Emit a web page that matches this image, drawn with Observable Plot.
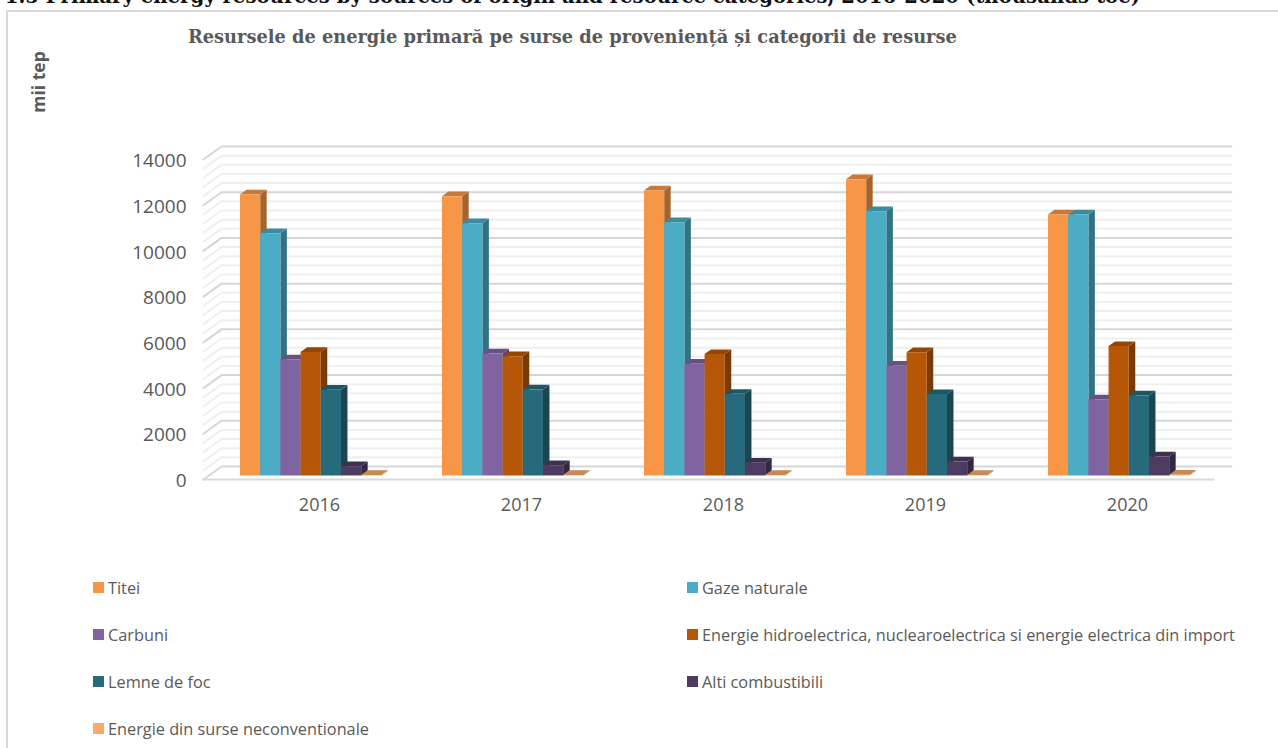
<!DOCTYPE html>
<html lang="ro">
<head>
<meta charset="utf-8">
<title>Resursele de energie primară</title>
<script src="https://cdn.jsdelivr.net/npm/d3@7"></script>
<script src="https://cdn.jsdelivr.net/npm/@observablehq/plot@0.6"></script>
<style>
  html, body { margin: 0; padding: 0; background: #fff; }
  #page { position: relative; width: 1278px; height: 748px; overflow: hidden; font-family: "Open Sans", sans-serif; color: #595959; }
  #plot { position: absolute; left: 0; top: 0; width: 1278px; height: 748px; }
  #frame { position: absolute; left: 6px; top: 10px; width: 1290px; height: 800px; border: 2px solid #d9d9d9; box-sizing: border-box; }
  #heading { position: absolute; right: 138px; top: -15px; white-space: nowrap; font: bold 19.7px "DejaVu Serif", serif; color: #111; }
  #title { position: absolute; left: 188px; top: 26px; white-space: nowrap; font: bold 17.8px "DejaVu Serif", serif; color: #595959; }
  #unit { position: absolute; left: 38px; top: 82px; transform: translate(-50%, -50%) rotate(-90deg); white-space: nowrap; font-weight: 700; font-size: 17.5px; }
  .key { position: absolute; white-space: nowrap; font-size: 16.3px; line-height: 20px; }
  .key i { position: absolute; left: -15px; top: 4px; width: 11px; height: 11px; }
</style>
</head>
<body>
<div id="page">
  <div id="frame"></div>
  <div id="heading">Figure 1.5 Primary energy resources by sources of origin and resource categories, 2016-2020 (thousands toe)</div>
  <div id="title">Resursele de energie primară pe surse de proveniență și categorii de resurse</div>
  <div id="unit">mii tep</div>
  <div id="plot"></div>
</div>
<script>
const years = [2016, 2017, 2018, 2019, 2020];
const sources = ["Titei", "Gaze naturale", "Carbuni", "Energie hidroelectrica, nuclearoelectrica si energie electrica din import", "Lemne de foc", "Alti combustibili", "Energie din surse neconventionale"];
const colors = ["#F79646", "#4BACC6", "#8064A2", "#B65708", "#276A7C", "#4D3B62", "#F9AA67"];

const titei = [12290, 12220, 12470, 12960, 11420];
const gaze = [10600, 11040, 11080, 11560, 11420];
const carbuni = [5080, 5340, 4890, 4800, 3330];
const hidro = [5400, 5220, 5310, 5390, 5660];
const lemne = [3750, 3760, 3570, 3560, 3500];
const alti = [410, 450, 560, 610, 830];
const neconv = [20, 20, 20, 20, 30];
const series = [titei, gaze, carbuni, hidro, lemne, alti, neconv];

const yTicks = d3.range(0, 14001, 2000);
const gridLevels = d3.range(0, 14001, 400);

// Oblique projection: a point at depth d (0 = front, 1 = back wall) shifts right and up.
const depthX = 0.0891;
const depthY = 569;
const at = (u, v, d) => ({x: u + d * depthX, y: v + d * depthY});

const barStart = 0.153, barWidth = 0.1, depthFront = 0.31, depthBack = 0.67;

const marks = [];

// Walls: minor gridlines first so the major ones sit on top of them.
const gridLine = (v, level) => [
  {...at(0, v, 0), id: level}, {...at(0, v, 1), id: level}, {...at(5, v, 1), id: level}
];
const minor = gridLevels.filter((v) => v % 2000 !== 0).flatMap((v) => gridLine(v, v));
const major = yTicks.flatMap((v) => gridLine(v, v));
marks.push(Plot.line(minor, {x: "x", y: "y", z: "id", stroke: "#efefef", strokeWidth: 2}));
marks.push(Plot.line(major, {x: "x", y: "y", z: "id", stroke: "#d6d6d6", strokeWidth: 2}));
marks.push(Plot.line([at(0, 0, 0), at(5, 0, 0)], {x: "x", y: "y", stroke: "#d9d9d9", strokeWidth: 2}));

// Each bar is three faces, painted left to right so a bar hides its neighbour's side.
series.forEach((values, s) => {
  const front = [], side = [], top = [];
  values.forEach((v, g) => {
    const u0 = g + barStart + s * barWidth, u1 = u0 + barWidth;
    front.push(...[at(u0, 0, depthFront), at(u1, 0, depthFront), at(u1, v, depthFront), at(u0, v, depthFront)].map((p) => ({...p, id: g})));
    side.push(...[at(u1, 0, depthFront), at(u1, 0, depthBack), at(u1, v, depthBack), at(u1, v, depthFront)].map((p) => ({...p, id: g})));
    top.push(...[at(u0, v, depthFront), at(u1, v, depthFront), at(u1, v, depthBack), at(u0, v, depthBack)].map((p) => ({...p, id: g})));
  });
  const base = d3.rgb(colors[s]);
  marks.push(Plot.line(side, {x: "x", y: "y", z: "id", fill: base.darker(1.15).formatHex(), stroke: "none"}));
  marks.push(Plot.line(top, {x: "x", y: "y", z: "id", fill: base.darker(0.6).formatHex(), stroke: "none"}));
  marks.push(Plot.line(front, {x: "x", y: "y", z: "id", fill: colors[s], stroke: "none"}));
});

marks.push(Plot.axisY({ticks: yTicks, tickSize: 0, tickPadding: 17, dy: 1.5, label: null, fontSize: 19, fill: "#595959", tickFormat: (d) => String(d)}));
marks.push(Plot.axisX({ticks: years.map((y, i) => i + 0.574), tickSize: 0, tickPadding: 18.5, label: null, fontSize: 18, fill: "#595959", tickFormat: (d, i) => String(years[i])}));

const chart = Plot.plot({
  width: 1278,
  height: 748,
  marginLeft: 203,
  marginRight: 65,
  marginTop: 159,
  marginBottom: 269,
  style: {fontFamily: '"Open Sans", sans-serif', background: "transparent"},
  x: {domain: [0, 5]},
  y: {domain: [0, 14000]},
  marks
});
document.getElementById("plot").append(chart);

// Legend: two columns, filled row by row.
const page = document.getElementById("page");
sources.forEach((name, i) => {
  const key = document.createElement("div");
  key.className = "key";
  key.style.left = (i % 2 ? 702 : 108) + "px";
  key.style.top = (578 + 47 * Math.floor(i / 2)) + "px";
  const swatch = document.createElement("i");
  swatch.style.background = colors[i];
  key.append(swatch, name);
  page.append(key);
});
</script>
</body>
</html>
